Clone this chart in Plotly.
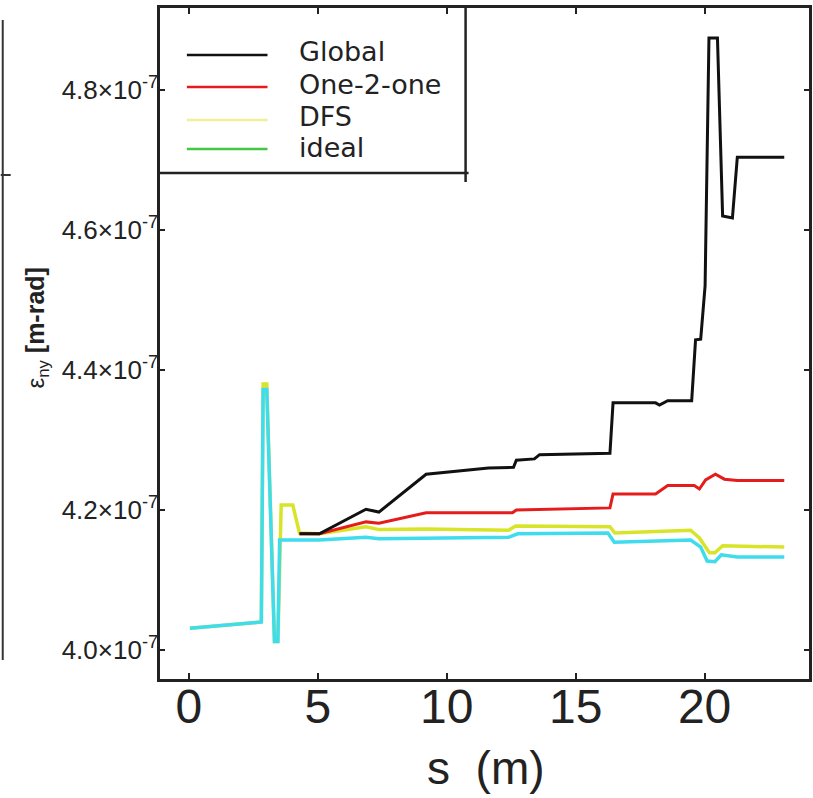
import numpy as np
import plotly.graph_objects as go

# ---------------- data (y in units of 1e-7 m-rad) ----------------
s_global = [4.29, 5.06, 6.87, 7.37, 9.20, 9.45, 11.62, 12.59, 12.70, 13.40, 13.60, 16.33, 16.45,
            18.10, 18.25, 18.57, 19.50, 19.65, 19.85, 20.02, 20.17, 20.50, 20.70, 21.08, 21.27, 23.09]
e_global = [4.166, 4.166, 4.201, 4.197, 4.251, 4.252, 4.260, 4.261, 4.271, 4.273, 4.279, 4.281, 4.353,
            4.353, 4.350, 4.356, 4.356, 4.443, 4.444, 4.520, 4.874, 4.874, 4.620, 4.617, 4.704, 4.704]

s_one2one = [4.29, 5.06, 6.87, 7.37, 9.20, 12.55, 12.70, 16.33, 16.45, 18.10, 18.57, 19.60, 19.80,
             20.04, 20.42, 20.77, 21.27, 23.09]
e_one2one = [4.166, 4.166, 4.183, 4.181, 4.196, 4.196, 4.200, 4.203, 4.223, 4.223, 4.235, 4.235, 4.230,
             4.243, 4.251, 4.244, 4.242, 4.242]

s_dfs = [0.04, 2.81, 2.88, 3.02, 3.32, 3.45, 3.58, 4.03, 4.29, 5.06, 6.87, 7.37, 9.20, 12.40, 12.67,
         16.33, 16.52, 19.46, 19.80, 20.19, 20.40, 20.70, 23.09]
e_dfs = [4.031, 4.040, 4.380, 4.380, 4.012, 4.012, 4.207, 4.207, 4.167, 4.166, 4.176, 4.172, 4.173,
         4.171, 4.177, 4.176, 4.167, 4.171, 4.160, 4.139, 4.139, 4.149, 4.147]

s_ideal = [0.04, 2.81, 2.88, 3.02, 3.32, 3.45, 3.52, 5.06, 6.87, 7.37, 12.40, 12.75, 16.25, 16.50,
           19.46, 19.85, 20.10, 20.40, 20.65, 21.27, 23.09]
e_ideal = [4.031, 4.040, 4.372, 4.372, 4.012, 4.012, 4.157, 4.157, 4.161, 4.159, 4.161, 4.166, 4.167,
           4.154, 4.157, 4.147, 4.127, 4.126, 4.136, 4.133, 4.133]

series_names = ["Global", "One-2-one", "DFS", "ideal"]
ytick_vals = [4.0, 4.2, 4.4, 4.6, 4.8]
ytick_text = ["4.0×10<sup>-7</sup>", "4.2×10<sup>-7</sup>", "4.4×10<sup>-7</sup>",
              "4.6×10<sup>-7</sup>", "4.8×10<sup>-7</sup>"]
xtick_vals = [0, 5, 10, 15, 20]

SCALE = 1e-7

# ---------------- figure ----------------
W, H = 813, 798
L, R, T, B = 160, 812, 8, 679
PW, PH = R - L, B - T


def px(xp):
    return (xp - L) / PW


def py(yp):
    return (B - yp) / PH


fig = go.Figure()

fig.add_trace(go.Scatter(x=s_dfs, y=np.array(e_dfs) * SCALE, mode="lines", name="DFS",
                         line=dict(color="#d8e428", width=3.5), showlegend=False))
fig.add_trace(go.Scatter(x=s_ideal, y=np.array(e_ideal) * SCALE, mode="lines", name="ideal",
                         line=dict(color="#3fdcee", width=3.5), showlegend=False))
fig.add_trace(go.Scatter(x=s_one2one, y=np.array(e_one2one) * SCALE, mode="lines", name="One-2-one",
                         line=dict(color="#e41c1c", width=3.0), showlegend=False))
fig.add_trace(go.Scatter(x=s_global, y=np.array(e_global) * SCALE, mode="lines", name="Global",
                         line=dict(color="#111111", width=3.0), showlegend=False))

sans = "Liberation Sans, Arial, sans-serif"

fig.update_layout(
    width=W, height=H,
    margin=dict(l=L, r=W - R, t=T, b=H - B),
    paper_bgcolor="white", plot_bgcolor="white",
    font=dict(family=sans, color="#222222"),
    xaxis=dict(range=[-1.12, 24.05], tickvals=xtick_vals, ticks="inside", ticklen=6, tickwidth=2,
               tickcolor="#222", showline=True, linecolor="#222", linewidth=2.5, mirror="ticks",
               showgrid=False, zeroline=False, ticklabelstandoff=-16,
               tickfont=dict(family=sans, size=48, color="#222")),
    yaxis=dict(range=[3.9586e-7, 4.917e-7], tickvals=[v * SCALE for v in ytick_vals], ticktext=ytick_text,
               ticks="inside", ticklen=5, tickwidth=2, tickcolor="#222", showline=True, linecolor="#222",
               linewidth=2.5, mirror="ticks", showgrid=False, zeroline=False, ticklabelstandoff=-6,
               tickfont=dict(family=sans, size=26, color="#222")),
    showlegend=False,
)

# axis titles
fig.add_annotation(xref="paper", yref="paper", x=px(488), y=py(768), text="s  (m)", showarrow=False,
                   xanchor="center", yanchor="middle", font=dict(family=sans, size=46, color="#222"))
fig.add_annotation(xref="paper", yref="paper", x=px(36), y=py(328), textangle=-90, showarrow=False,
                   xanchor="center", yanchor="middle",
                   text="<span style='font-size:24px;font-weight:normal'>ε<sub>ny</sub></span> <b>[m-rad]</b>",
                   font=dict(family=sans, size=25, color="#222"))

# manual legend (box + samples + labels)
legend_colors = ["#111111", "#e41c1c", "#eef09a", "#44c844"]
line_y = [55, 87, 120, 149]
text_y = [52, 84, 116, 147]
shapes = []
for name, col, ly, ty in zip(series_names, legend_colors, line_y, text_y):
    shapes.append(dict(type="line", xref="paper", yref="paper", x0=px(187), x1=px(268), y0=py(ly), y1=py(ly),
                       line=dict(color=col, width=2.5)))
    fig.add_annotation(xref="paper", yref="paper", x=px(298), y=py(ty), text=name, showarrow=False,
                       xanchor="left", yanchor="middle",
                       font=dict(family="DejaVu Sans, sans-serif", size=27, color="#222"))
# legend frame lines
shapes.append(dict(type="line", xref="paper", yref="paper", x0=px(160), x1=px(470), y0=py(173), y1=py(173),
                   line=dict(color="#222", width=2.5)))
shapes.append(dict(type="line", xref="paper", yref="paper", x0=px(467), x1=px(467), y0=py(8), y1=py(182),
                   line=dict(color="#222", width=2.5)))
# stray frame fragment at the far left of the image
shapes.append(dict(type="line", xref="paper", yref="paper", x0=px(2), x1=px(2), y0=py(20), y1=py(660),
                   line=dict(color="#333", width=2)))
shapes.append(dict(type="line", xref="paper", yref="paper", x0=px(0), x1=px(10), y0=py(175), y1=py(175),
                   line=dict(color="#333", width=2)))
fig.update_layout(shapes=shapes)

fig.write_html("out.html")
